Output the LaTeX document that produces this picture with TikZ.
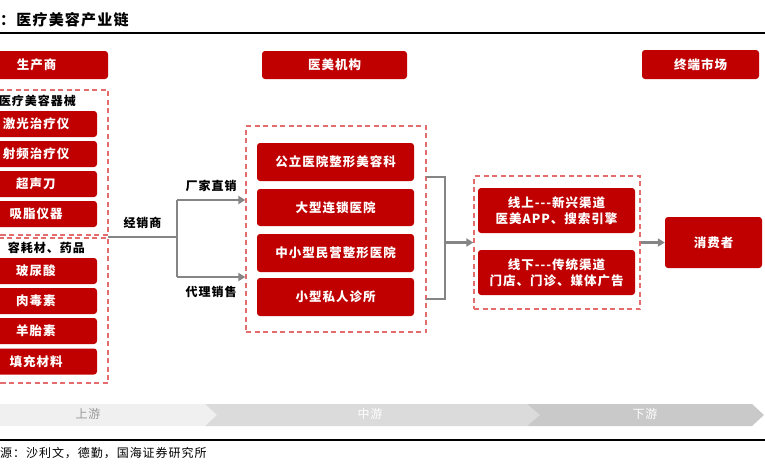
\documentclass[tikz,border=0pt]{standalone}
\usepackage{fontspec}
\setmainfont{Noto Sans CJK SC}[LetterSpace=8]
\usetikzlibrary{
	arrows.meta,
	calc,
	positioning,
}
\definecolor{brick}{HTML}{C00000}
\definecolor{pinkdash}{HTML}{E46C6C}
\definecolor{flowgray}{HTML}{858585}
\tikzset{red node/.style={fill=brick,draw=none,rounded corners=3pt,text=white,font=\bfseries\fontsize{12.5}{16}\selectfont,align=center,inner sep=0pt,}}
\tikzset{dash box/.style={draw=pinkdash,dash pattern=on 5pt off 3.5pt,line width=1.3pt,inner sep=0pt,}}
\tikzset{tag/.style={font=\bfseries\fontsize{12}{14}\selectfont,inner sep=0pt,}}
\tikzset{flow/.style={draw=flowgray,line width=2.4pt,}}
\tikzset{band text/.style={font=\fontsize{12}{14}\selectfont,inner sep=0pt,}}
\tikzset{
	>={Triangle[length=7pt,width=8pt]},
	thick,
}

\begin{document}
\begin{tikzpicture}[x=1pt,y=-1pt]
\useasboundingbox (0,0) rectangle (765,466);

% title
\node[anchor=west,font=\bfseries\fontsize{15}{18}\selectfont,inner sep=0pt](title) at(0,20) {：医疗美容产业链};
\draw[line width=1.8pt] (0,33) -- (765,33);

% headers
\node[red node,minimum width=143pt,minimum height=28pt](maker) at(36.5,65) {生产商};
\node[red node,minimum width=145pt,minimum height=28pt](inst) at(334.5,65) {医美机构};
\node[red node,minimum width=117pt,minimum height=29pt](market) at(700.5,64.5) {终端市场};

% upstream
\node[dash box,minimum width=150pt,minimum height=145pt](dev) at(33,162.5) {};
\node[dash box,minimum width=150pt,minimum height=145pt](mat) at(33,310.5) {};
\node[tag,anchor=east](devtag) at(76,101) {医疗美容器械};
\node[tag,anchor=east](mattag) at(85,248) {容耗材、药品};

\node[red node,minimum width=122pt,minimum height=26pt](laser) at(36,124) {激光治疗仪};
\node[red node,minimum width=122pt,minimum height=26pt](rf) at(36,154) {射频治疗仪};
\node[red node,minimum width=122pt,minimum height=26pt](hifu) at(36,184) {超声刀};
\node[red node,minimum width=122pt,minimum height=26pt](lipo) at(36,214) {吸脂仪器};
\node[red node,minimum width=122pt,minimum height=26pt](ha) at(36,271) {玻尿酸};
\node[red node,minimum width=122pt,minimum height=26pt](botox) at(36,301) {肉毒素};
\node[red node,minimum width=122pt,minimum height=26pt](pla) at(36,331) {羊胎素};
\node[red node,minimum width=122pt,minimum height=26pt](fill) at(36,361.5) {填充材料};

% midstream
\node[dash box,minimum width=180pt,minimum height=206pt](mid) at(336,229) {};
\node[red node,minimum width=157pt,minimum height=38pt](pub) at(335.5,162) {公立医院整形美容科};
\node[red node,minimum width=157pt,minimum height=37pt](chain) at(335.5,207.5) {大型连锁医院};
\node[red node,minimum width=157pt,minimum height=38pt](priv) at(335.5,253) {中小型民营整形医院};
\node[red node,minimum width=157pt,minimum height=38pt](clinic) at(335.5,297) {小型私人诊所};

% downstream
\node[dash box,minimum width=166pt,minimum height=133pt](chan) at(557,242.5) {};
\node[red node,minimum width=157pt,minimum height=45pt](online) at(556.5,210.5) {线上-{}-{}-新兴渠道\\医美APP、搜索引擎};
\node[red node,minimum width=157pt,minimum height=45pt](offline) at(556.5,272.5) {线下-{}-{}-传统渠道\\门店、门诊、媒体广告};
\node[red node,minimum width=97pt,minimum height=51pt](user) at(713.5,242.5) {消费者};

% connectors
\coordinate(d) at(108,237);
\coordinate(s) at(177,237);
\coordinate(s1) at(177,200);
\coordinate(s2) at(177,277);
\draw[flow] (d) -- (s) node[tag,midway,above=7pt]{经销商};
\draw[flow] (s1) -- (s2);
\draw[flow,->] (s1) -- (s1 -| mid.west) node[tag,midway,above=7pt]{厂家直销};
\draw[flow,->] (s2) -- (s2 -| mid.west) node[tag,midway,below=8pt]{代理销售};

\coordinate(b1) at(426,177);
\coordinate(b2) at(426,299);
\coordinate(b) at(445,242.5);
\draw[flow] (b1) -| (b) |- (b2);
\draw[flow,->] (b) -- (chan.west);
\draw[flow,->] (chan.east) -- (user.west);

% stream band
\fill[gray!12] (0,404) -- (205,404) -- (217,415) -- (205,426) -- (0,426) -- cycle;
\fill[gray!28] (205,404) -- (527,404) -- (540,415) -- (527,426) -- (205,426) -- (217,415) -- cycle;
\fill[gray!42] (527,404) -- (752,404) -- (764,415) -- (752,426) -- (527,426) -- (540,415) -- cycle;
\node[band text,text=gray!80](up) at(88,414) {上游};
\node[band text,text=white](midtag) at(370,414) {中游};
\node[band text,text=white](down) at(645,414) {下游};

% source
\draw[line width=1.8pt] (0,440) -- (765,440);
\node[anchor=west,font=\fontsize{12}{14}\selectfont,inner sep=0pt](src) at(0,453) {源：沙利文，德勤，国海证券研究所};

\end{tikzpicture}
\end{document}
